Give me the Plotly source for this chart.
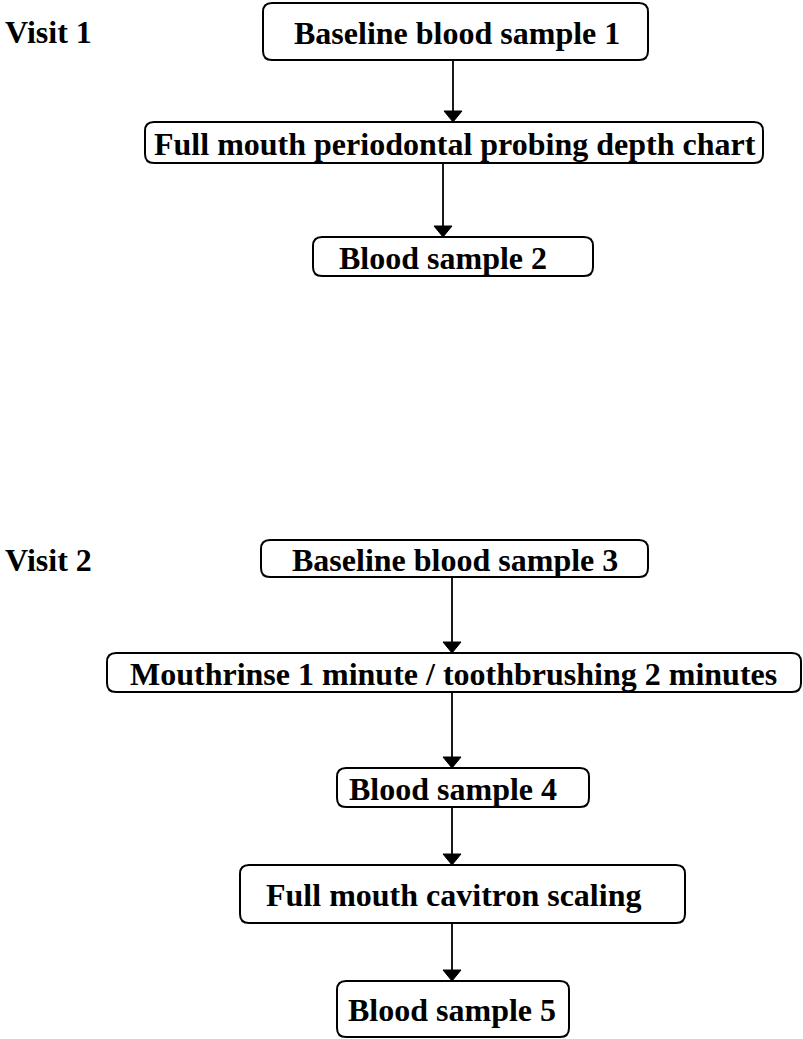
import plotly.graph_objects as go

# ---- content ----
visit_labels = ["Visit 1", "Visit 2"]
step_labels = [
    "Baseline blood sample 1",
    "Full mouth periodontal probing depth chart",
    "Blood sample 2",
    "Baseline blood sample 3",
    "Mouthrinse 1 minute / toothbrushing 2 minutes",
    "Blood sample 4",
    "Full mouth cavitron scaling",
    "Blood sample 5",
]
# arrows between steps (from index, to index)
edges = [(0, 1), (1, 2), (3, 4), (4, 5), (5, 6), (6, 7)]

# ---- layout geometry (pixel coordinates, y downwards) ----
W, H = 803, 1039
box_left = [263, 145, 313, 261, 107, 337, 240, 337]
box_right = [648, 763, 593, 648, 801, 589, 685, 569]
box_top = [3, 122, 237, 540, 653, 768, 865, 981]
box_bottom = [60, 163, 276, 577, 692, 807, 923, 1037]
text_x = [457, 455, 443, 455, 453, 453, 453, 452]
arrow_x = [453, 443, 452, 452, 452, 452]
visit_x = [3, 3]
visit_y = [32, 560]

FONT = dict(family="Liberation Serif, Times New Roman, serif", size=32, color="black")


def rounded_rect(x0, y0, x1, y1, r=9):
    return (
        f"M {x0 + r},{y0} L {x1 - r},{y0} Q {x1},{y0} {x1},{y0 + r} "
        f"L {x1},{y1 - r} Q {x1},{y1} {x1 - r},{y1} "
        f"L {x0 + r},{y1} Q {x0},{y1} {x0},{y1 - r} "
        f"L {x0},{y0 + r} Q {x0},{y0} {x0 + r},{y0} Z"
    )


fig = go.Figure()
shapes = []
annotations = []

for i, label in enumerate(step_labels):
    shapes.append(dict(
        type="path", xref="x", yref="y",
        path=rounded_rect(box_left[i], box_top[i], box_right[i], box_bottom[i]),
        line=dict(color="black", width=2), fillcolor="white", layer="above",
    ))
    annotations.append(dict(
        x=text_x[i], y=(box_top[i] + box_bottom[i]) / 2 + 1, xref="x", yref="y",
        text=f"<b>{label}</b>", showarrow=False, font=FONT,
        xanchor="center", yanchor="middle",
    ))

for k, (a, b) in enumerate(edges):
    x = arrow_x[k]
    y0 = box_bottom[a]
    y1 = box_top[b]
    head_h, head_w = 11, 9
    shapes.append(dict(
        type="line", xref="x", yref="y", x0=x, x1=x, y0=y0, y1=y1 - head_h + 1,
        line=dict(color="black", width=1.8), layer="above",
    ))
    shapes.append(dict(
        type="path", xref="x", yref="y",
        path=f"M {x - head_w},{y1 - head_h} L {x + head_w},{y1 - head_h} L {x},{y1} Z",
        line=dict(color="black", width=1), fillcolor="black", layer="above",
    ))

for i, label in enumerate(visit_labels):
    annotations.append(dict(
        x=visit_x[i], y=visit_y[i], xref="x", yref="y",
        text=f"<b>{label}</b>", showarrow=False, font=FONT,
        xanchor="left", yanchor="middle",
    ))

fig.update_layout(
    width=W, height=H,
    margin=dict(l=0, r=0, t=0, b=0),
    paper_bgcolor="white", plot_bgcolor="white",
    xaxis=dict(range=[0, W], visible=False, fixedrange=True),
    yaxis=dict(range=[H, 0], visible=False, fixedrange=True),
    shapes=shapes, annotations=annotations,
    showlegend=False,
)

fig.write_html(
    "out.html",
    config={"displayModeBar": False},
    post_script="document.body.style.margin='0';document.body.style.overflow='hidden';",
)
